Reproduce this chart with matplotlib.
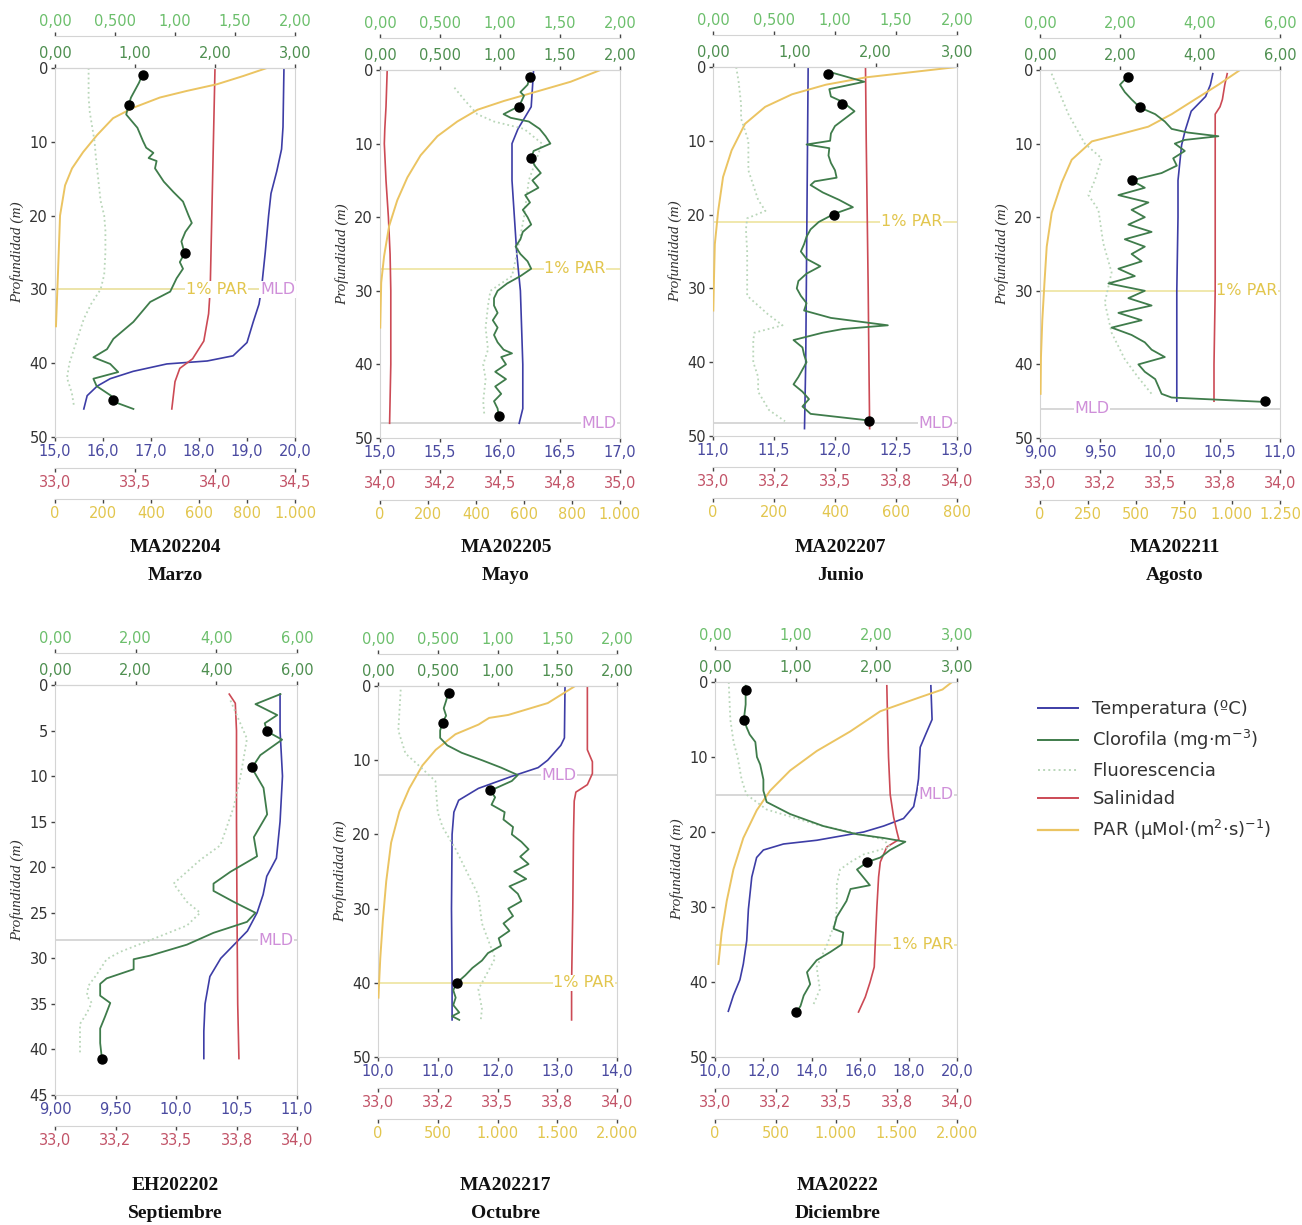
import matplotlib
matplotlib.use("Agg")
import matplotlib.pyplot as plt
from matplotlib.lines import Line2D
from matplotlib import transforms

# ---------------------------------------------------------------- data
codes = ["MA202204", "MA202205", "MA202207", "MA202211", "EH202202", "MA202217", "MA20222"]
months = ["Marzo", "Mayo", "Junio", "Agosto", "Septiembre", "Octubre", "Diciembre"]
legend_labels = ["Temperatura (ºC)", "Clorofila (mg·m$^{-3}$)", "Fluorescencia",
                 "Salinidad", "PAR (μMol·(m$^{2}$·s)$^{-1}$)"]

# ---- MA202204 (Marzo)
p1_chl_z = [0.7, 2, 3, 4, 5, 6.3, 8.1, 9.9, 10.8, 11.5, 12.2, 12.6, 13.6, 15.4, 16.8, 18.1, 20, 21, 22.2,
            23.5, 25.1, 26.3, 27.2, 28.5, 30.3, 31.7, 34.4, 36.7, 38.1, 39.2, 40.1, 41.2, 42.1, 43.1, 44.4, 45.2, 46.2]
p1_chl = [1.10, 1.05, 1.00, 0.95, 0.92, 0.89, 1.03, 1.10, 1.14, 1.23, 1.17, 1.27, 1.25, 1.36, 1.48, 1.60, 1.67, 1.71, 1.63,
          1.58, 1.62, 1.56, 1.60, 1.52, 1.44, 1.19, 0.98, 0.73, 0.65, 0.48, 0.69, 0.79, 0.48, 0.52, 0.70, 0.73, 0.98]
p1_flu_z = [0, 2, 4, 6, 8, 10, 12, 15, 18, 20, 22, 25, 28, 30, 32, 34, 36, 38, 40, 42, 44, 46]
p1_flu = [0.28, 0.28, 0.28, 0.29, 0.31, 0.33, 0.34, 0.36, 0.38, 0.41, 0.42, 0.42, 0.41, 0.38, 0.30, 0.24, 0.20, 0.16, 0.12, 0.10, 0.14, 0.16]
p1_tem_z = [0, 4, 8, 11, 14, 17, 20, 25, 30, 32, 34.4, 37.2, 39.0, 39.7, 40.1, 41.1, 42.1, 43.1, 44.4, 46.2]
p1_tem = [19.77, 19.76, 19.75, 19.72, 19.62, 19.50, 19.45, 19.38, 19.30, 19.25, 19.13, 19.00, 18.71, 18.17, 17.33, 16.63, 16.15, 15.88, 15.67, 15.60]
p1_sal_z = [0, 10, 20, 30, 33.3, 37, 39.4, 40.7, 42.5, 46.2]
p1_sal = [34.00, 33.99, 33.98, 33.97, 33.96, 33.93, 33.86, 33.78, 33.75, 33.73]
p1_par_z = [0, 1.1, 2.2, 3.1, 4.0, 5.4, 6.8, 9.1, 11.4, 13.6, 15.9, 20, 27.3, 35]
p1_par = [883, 783, 675, 550, 437, 325, 242, 175, 117, 71, 42, 21, 13, 4]
p1_bot_z = [1, 5, 25, 45]
p1_bot = [1.10, 0.92, 1.62, 0.73]
p1_mld, p1_par1 = 30, 30

# ---- MA202205 (Mayo)
p2_chl_z = [0.7, 2, 3, 3.5, 4.9, 6, 6.5, 7, 8, 9, 10, 11, 12, 13, 14, 15, 16, 17, 18, 19, 20, 21, 22, 23, 24, 25, 26, 27,
            28, 29, 30, 31, 32, 33, 34, 35, 36, 37, 38, 38.5, 39, 40, 41, 42, 43, 44, 45, 46, 47]
p2_chl = [1.25, 1.23, 1.17, 1.20, 1.16, 1.03, 1.09, 1.24, 1.33, 1.38, 1.42, 1.28, 1.26, 1.29, 1.34, 1.27, 1.32, 1.21, 1.25,
          1.19, 1.23, 1.26, 1.19, 1.17, 1.13, 1.17, 1.23, 1.26, 1.17, 1.06, 0.98, 0.95, 0.95, 0.98, 0.94, 0.98, 0.95, 0.98,
          1.03, 1.10, 1.01, 1.05, 0.96, 1.05, 0.96, 1.01, 0.95, 0.98, 0.99]
p2_flu_z = [2.4, 4, 6, 7, 8, 10, 15, 20, 25, 28, 30, 32, 35, 38, 40, 42, 45, 47]
p2_flu = [0.62, 0.70, 0.81, 0.95, 1.20, 1.35, 1.24, 1.20, 1.14, 1.10, 0.92, 0.90, 0.88, 0.90, 0.86, 0.88, 0.86, 0.87]
p2_tem_z = [0, 5, 8, 10, 15, 20, 25, 30, 40, 46, 48]
p2_tem = [16.28, 16.26, 16.15, 16.10, 16.10, 16.12, 16.14, 16.17, 16.19, 16.19, 16.16]
p2_sal_z = [0, 5, 8, 10, 15, 20, 25, 30, 40, 48]
p2_sal = [34.03, 34.025, 34.02, 34.018, 34.025, 34.035, 34.042, 34.045, 34.045, 34.04]
p2_par_z = [0, 1.6, 2.9, 4.2, 5.4, 7, 9, 11.6, 14.6, 17.7, 21.2, 25.3, 28.9, 35]
p2_par = [919, 794, 656, 517, 406, 322, 239, 169, 114, 72, 38, 17, 5, 1]
p2_bot_z = [1, 5, 12, 47]
p2_bot = [1.25, 1.16, 1.26, 0.99]
p2_mld, p2_par1 = 48, 27

# ---- MA202207 (Junio)
p3_chl_z = [0.6, 2, 3, 4, 4.7, 6, 7, 8, 9, 10, 10.5, 11, 12, 13, 14, 15, 15.5, 16, 17, 18, 19, 19.9, 21, 22, 23, 24, 25,
            26, 27, 28, 29, 30, 31, 32, 33, 34, 35, 35.5, 36, 37, 38, 39, 40, 41, 42, 43, 44, 45, 46, 47, 47.9]
p3_chl = [1.41, 1.86, 1.43, 1.45, 1.59, 1.74, 1.62, 1.50, 1.45, 1.44, 1.15, 1.43, 1.42, 1.45, 1.50, 1.52, 1.25, 1.20, 1.35,
          1.55, 1.72, 1.49, 1.30, 1.20, 1.15, 1.12, 1.08, 1.15, 1.32, 1.15, 1.05, 1.03, 1.08, 1.15, 1.12, 1.45, 2.15, 1.60,
          1.35, 0.99, 1.10, 1.12, 1.15, 1.10, 1.05, 0.99, 1.10, 1.18, 1.10, 1.20, 1.92]
p3_flu_z = [0, 2, 5, 7, 10, 14, 18, 19.5, 20.5, 22, 25, 28, 31, 33.5, 35, 36, 37, 40, 42, 44, 46.5, 48]
p3_flu = [0.19, 0.21, 0.23, 0.23, 0.29, 0.29, 0.37, 0.43, 0.28, 0.27, 0.28, 0.28, 0.28, 0.45, 0.57, 0.34, 0.33, 0.33, 0.37, 0.37, 0.46, 0.59]
p3_tem_z = [0, 10, 20, 30, 40, 49]
p3_tem = [11.78, 11.775, 11.77, 11.765, 11.76, 11.75]
p3_sal_z = [0, 10, 20, 30, 40, 49]
p3_sal = [33.625, 33.628, 33.632, 33.636, 33.639, 33.642]
p3_par_z = [0, 1.4, 2.4, 3.7, 5.4, 7.7, 11.3, 14.9, 19.5, 24, 29, 33]
p3_par = [800, 502, 370, 259, 171, 105, 61, 33, 17, 6, 3, 1]
p3_bot_z = [1, 5, 20, 48]
p3_bot = [1.41, 1.59, 1.49, 1.92]
p3_mld, p3_par1 = 48.3, 21

# ---- MA202211 (Agosto)
p4_chl_z = [0.8, 2, 3, 4, 5.1, 6, 7, 8, 8.5, 9, 9.5, 10, 11, 12, 13, 14, 15, 16, 17, 18, 19, 20, 21, 22, 23, 24, 25, 26,
            27, 28, 29, 30, 31, 32, 33, 34, 35, 36, 37, 38, 39, 40, 41, 42, 43, 44, 44.5, 45.1]
p4_chl = [2.21, 2.00, 2.12, 2.29, 2.50, 2.88, 3.12, 3.29, 3.70, 4.46, 3.62, 3.37, 3.62, 3.33, 3.42, 3.04, 2.29, 2.62, 1.96,
          2.71, 2.29, 2.62, 2.21, 2.79, 2.12, 2.62, 2.29, 2.54, 1.96, 2.37, 1.71, 2.62, 2.21, 2.79, 1.96, 2.54, 1.79, 2.29,
          2.62, 2.79, 3.12, 2.46, 2.62, 2.88, 2.96, 3.04, 3.29, 5.62]
p4_flu_z = [0.5, 6, 10, 12, 15, 17, 19, 23.5, 27.5, 31.6, 35.7, 39.3, 41.8, 44]
p4_flu = [0.29, 0.71, 1.12, 1.54, 1.37, 1.21, 1.46, 1.58, 1.79, 1.62, 1.79, 2.12, 2.46, 2.79]
p4_tem_z = [0.5, 2, 3.6, 5.6, 8.2, 10.2, 15, 20, 30, 40, 45]
p4_tem = [10.44, 10.42, 10.38, 10.26, 10.21, 10.18, 10.15, 10.15, 10.14, 10.14, 10.14]
p4_sal_z = [0.5, 2, 4, 5, 6, 10, 20, 30, 40, 45]
p4_sal = [33.78, 33.77, 33.76, 33.75, 33.73, 33.73, 33.73, 33.73, 33.725, 33.725]
p4_par_z = [0, 2, 4, 6, 7.7, 8.7, 9.7, 12.2, 15.3, 19.4, 24, 29, 34, 39, 44]
p4_par = [1042, 929, 807, 686, 564, 420, 270, 165, 113, 61, 35, 23, 12, 5, 3]
p4_bot_z = [1, 5, 15, 45]
p4_bot = [2.21, 2.50, 2.29, 5.62]
p4_mld, p4_par1 = 46, 30

# ---- EH202202 (Septiembre)
p5_chl_z = [1, 2.1, 3.3, 4.2, 5.1, 6, 7.7, 9.1, 11.3, 14.2, 16.7, 18.8, 20.5, 21.8, 22.6, 23.8, 25, 26, 27.2, 28.5,
            29.7, 30.1, 31.2, 32.2, 32.8, 34.1, 34.9, 36.4, 37.7, 39.3, 40.9]
p5_chl = [5.59, 4.97, 5.51, 5.20, 5.26, 5.63, 5.09, 4.88, 5.17, 5.26, 4.93, 5.01, 4.35, 3.93, 3.93, 4.43, 4.97, 4.76, 3.93,
          3.27, 2.36, 1.95, 1.95, 1.28, 1.12, 1.12, 1.37, 1.24, 1.12, 1.12, 1.16]
p5_flu_z = [1.7, 5.9, 10, 13.4, 17.6, 19.2, 21.8, 23.8, 25, 26.4, 28, 29.3, 30.1, 31.8, 33, 34.1, 34.9, 36, 37.2, 40.6]
p5_flu = [4.35, 4.76, 4.60, 4.43, 4.10, 3.60, 2.94, 3.27, 3.60, 3.27, 2.36, 1.61, 1.28, 1.03, 0.83, 0.79, 0.91, 0.79, 0.62, 0.62]
p5_tem_z = [1, 5, 10, 15, 19, 21, 23, 25, 27, 28.5, 30, 32, 33.5, 35, 38, 41]
p5_tem = [10.86, 10.86, 10.88, 10.86, 10.83, 10.75, 10.72, 10.67, 10.59, 10.48, 10.37, 10.28, 10.26, 10.24, 10.23, 10.23]
p5_sal_z = [1, 2, 5, 15, 25, 35, 41]
p5_sal = [33.72, 33.745, 33.75, 33.75, 33.752, 33.755, 33.76]
p5_bot_z = [5, 9, 41]
p5_bot = [5.26, 4.88, 1.16]
p5_mld = 28

# ---- MA202217 (Octubre)
p6_chl_z = [0.8, 2, 3, 4, 4.9, 6, 7, 8, 9, 10, 11, 12, 12.8, 14.1, 15, 16, 17, 18, 19, 20, 21, 22, 23, 24, 25, 26, 27, 28,
            29, 30, 31, 32, 33, 34, 35, 36, 37, 38, 39, 40, 41, 42, 43, 44, 44.5, 45]
p6_chl = [0.59, 0.57, 0.55, 0.57, 0.54, 0.52, 0.52, 0.58, 0.70, 0.87, 1.03, 1.17, 1.12, 0.94, 0.98, 0.95, 1.06, 1.05, 1.13,
          1.12, 1.20, 1.26, 1.19, 1.26, 1.14, 1.24, 1.10, 1.17, 1.20, 1.09, 1.13, 1.05, 1.10, 1.01, 1.03, 0.92, 0.87, 0.79,
          0.73, 0.66, 0.63, 0.65, 0.63, 0.68, 0.62, 0.68]
p6_flu_z = [0.5, 6, 9.1, 10.7, 12.8, 17, 19, 22, 24.6, 28.2, 32, 36.7, 40.9, 43.5, 45]
p6_flu = [0.19, 0.17, 0.23, 0.34, 0.48, 0.50, 0.54, 0.65, 0.73, 0.84, 0.87, 0.98, 0.84, 0.87, 0.86]
p6_tem_z = [0, 7, 8, 10, 11, 12.2, 13.8, 15.4, 17, 20, 30, 40, 45]
p6_tem = [13.13, 13.12, 13.06, 12.84, 12.68, 12.23, 11.68, 11.35, 11.27, 11.24, 11.23, 11.24, 11.24]
p6_sal_z = [0, 8.6, 10.2, 11.8, 13.3, 14.3, 15.5, 20, 30, 40, 45]
p6_sal = [33.876, 33.876, 33.897, 33.897, 33.876, 33.828, 33.821, 33.818, 33.815, 33.81, 33.81]
p6_par_z = [0, 2.3, 3.9, 4.3, 4.6, 5.2, 6.5, 8.6, 10.7, 13.8, 16.9, 21.1, 26.3, 31.5, 36.7, 40.4, 42]
p6_par = [1650, 1421, 1090, 930, 900, 841, 648, 483, 372, 262, 179, 110, 69, 41, 19, 8, 4]
p6_bot_z = [1, 5, 14, 40]
p6_bot = [0.59, 0.54, 0.94, 0.66]
p6_mld, p6_par1 = 12, 40

# ---- MA20222 (Diciembre)
p7_chl_z = [0.5, 3, 4.8, 6, 7, 8, 10, 11, 12, 13, 14.5, 16, 17.6, 19.2, 20.3, 20.8, 21.3, 22.4, 23.4, 24, 25, 27.1, 27.6,
            29.2, 31.3, 32.9, 33.4, 35, 36, 37.1, 38.7, 40.3, 41.8, 43.2, 44.2]
p7_chl = [0.38, 0.38, 0.36, 0.39, 0.43, 0.50, 0.52, 0.56, 0.58, 0.60, 0.60, 0.64, 0.93, 1.34, 1.76, 2.09, 2.36, 2.17, 2.05,
          1.89, 1.76, 1.92, 1.68, 1.63, 1.51, 1.47, 1.59, 1.57, 1.43, 1.26, 1.14, 1.18, 1.10, 1.06, 1.00]
p7_flu_z = [0, 5, 8, 10, 13, 15, 17, 19, 20, 21, 22, 23, 24, 25, 27, 30, 32, 35, 38, 41, 43]
p7_flu = [0.17, 0.19, 0.23, 0.28, 0.33, 0.39, 0.64, 1.26, 1.68, 2.09, 2.17, 1.84, 1.68, 1.55, 1.51, 1.51, 1.49, 1.39, 1.26, 1.30, 1.22]
p7_tem_z = [0.5, 5, 7.1, 8.7, 12.9, 14.5, 16.6, 18.2, 19.2, 20, 21.1, 21.6, 22.4, 23.4, 26, 30.3, 34.5, 37.6, 39.7, 41.8, 43.9]
p7_tem = [18.92, 18.97, 18.69, 18.48, 18.41, 18.34, 18.21, 17.79, 16.97, 16.14, 14.21, 12.83, 12.00, 11.72, 11.52, 11.38,
          11.31, 11.17, 11.03, 10.76, 10.55]
p7_sal_z = [0.5, 5, 10, 15, 18, 20, 21, 22, 24, 26, 30, 35, 38, 40, 42, 44]
p7_sal = [33.71, 33.713, 33.717, 33.724, 33.738, 33.752, 33.76, 33.71, 33.683, 33.676, 33.669, 33.662, 33.658, 33.641, 33.621, 33.593]
p7_par_z = [0, 1, 2, 3.9, 6.6, 9.2, 11.8, 14.5, 17.1, 20.8, 25, 29.2, 33.4, 37.6]
p7_par = [1959, 1880, 1700, 1366, 1117, 841, 621, 455, 345, 234, 152, 97, 55, 28]
p7_bot_z = [1, 5, 24, 44]
p7_bot = [0.38, 0.36, 1.89, 1.00]
p7_mld, p7_par1 = 15, 35

# ---- axis scales (limits and ticks)
depth_ticks_50 = [0, 10, 20, 30, 40, 50]
depth_ticks_45 = [0, 5, 10, 15, 20, 25, 30, 35, 40, 45]
tem_ticks = [[15, 16, 17, 18, 19, 20], [15, 15.5, 16, 16.5, 17], [11, 11.5, 12, 12.5, 13], [9, 9.5, 10, 10.5, 11],
             [9, 9.5, 10, 10.5, 11], [10, 11, 12, 13, 14], [10, 12, 14, 16, 18, 20]]
sal_ticks = [[33.0, 33.5, 34.0, 34.5], [34.0, 34.25, 34.5, 34.75, 35.0], [33.0, 33.25, 33.5, 33.75, 34.0],
             [33.0, 33.25, 33.5, 33.75, 34.0], [33.0, 33.25, 33.5, 33.75, 34.0], [33.0, 33.25, 33.5, 33.75, 34.0],
             [33.0, 33.25, 33.5, 33.75, 34.0]]
par_ticks = [[0, 200, 400, 600, 800, 1000], [0, 200, 400, 600, 800, 1000], [0, 200, 400, 600, 800],
             [0, 250, 500, 750, 1000, 1250], None, [0, 500, 1000, 1500, 2000], [0, 500, 1000, 1500, 2000]]
chl_ticks = [[0, 1, 2, 3], [0, 0.5, 1, 1.5, 2], [0, 1, 2, 3], [0, 2, 4, 6], [0, 2, 4, 6], [0, 0.5, 1, 1.5, 2], [0, 1, 2, 3]]
flu_ticks = [[0, 0.5, 1, 1.5, 2], [0, 0.5, 1, 1.5, 2], [0, 0.5, 1, 1.5, 2], [0, 2, 4, 6], [0, 2, 4, 6],
             [0, 0.5, 1, 1.5, 2], [0, 1, 2, 3]]

# ---------------------------------------------------------------- style
C_TEM, C_TEM_T = "#3d3da6", "#4a4aa0"
C_CHL, C_CHL_T = "#3f7c4b", "#4e8f50"
C_FLU, C_FLU_T = "#b9d6b9", "#6cbf6c"
C_SAL, C_SAL_T = "#cc4a55", "#c25468"
C_PAR, C_PAR_T = "#ebc462", "#e2c64e"
C_MLD_T = "#cf8fd9"
C_GRID = "#d4d4d4"
C_TICK = "#444444"
TXT = "#333333"

# axes boxes in pixels: left, top, right, bottom
boxes = [(55, 68, 295, 437), (380, 70, 620, 438), (713, 67, 957, 436), (1040, 70, 1280, 438),
         (55, 685, 297, 1095), (378, 686, 617, 1057), (715, 682, 957, 1057)]
title_pos = [(175, 548), (506, 548), (840, 548), (1175, 548), (175, 1186), (505, 1186), (838, 1186)]
mld_label_x = [1.0, 0.985, 0.985, 0.29, 0.985, 0.83, 0.985]
par_label_x = [0.80, 0.94, 0.94, 0.99, None, 0.99, 0.985]

W, H = 1302, 1225
fig = plt.figure(figsize=(W / 100, H / 100), dpi=100)
PT = 0.72  # points per pixel


def fmt3(v):
    return format(v, "#.3g").replace(".", ",")


def fmtpar(v):
    return f"{int(v):,}".replace(",", ".")


def twin(ax, where, off_px, ticks, labels, color):
    t = ax.twiny()
    t.set_xlim(ticks[0], ticks[-1])
    t.xaxis.set_ticks_position(where)
    t.xaxis.set_label_position(where)
    for s in t.spines.values():
        s.set_visible(False)
    t.spines[where].set_visible(True)
    t.spines[where].set_position(("outward", off_px * PT))
    t.spines[where].set_color(C_GRID)
    t.set_xticks(ticks)
    t.set_xticklabels(labels)
    t.tick_params(axis="x", color=C_TICK, labelcolor=color, labelsize=10.5, length=3, width=1, pad=2)
    return t


panels = [
    dict(cz=p1_chl_z, c=p1_chl, fz=p1_flu_z, f=p1_flu, tz=p1_tem_z, t=p1_tem, sz=p1_sal_z, s=p1_sal,
         pz=p1_par_z, p=p1_par, bz=p1_bot_z, b=p1_bot, mld=p1_mld, par1=p1_par1, zt=depth_ticks_50),
    dict(cz=p2_chl_z, c=p2_chl, fz=p2_flu_z, f=p2_flu, tz=p2_tem_z, t=p2_tem, sz=p2_sal_z, s=p2_sal,
         pz=p2_par_z, p=p2_par, bz=p2_bot_z, b=p2_bot, mld=p2_mld, par1=p2_par1, zt=depth_ticks_50),
    dict(cz=p3_chl_z, c=p3_chl, fz=p3_flu_z, f=p3_flu, tz=p3_tem_z, t=p3_tem, sz=p3_sal_z, s=p3_sal,
         pz=p3_par_z, p=p3_par, bz=p3_bot_z, b=p3_bot, mld=p3_mld, par1=p3_par1, zt=depth_ticks_50),
    dict(cz=p4_chl_z, c=p4_chl, fz=p4_flu_z, f=p4_flu, tz=p4_tem_z, t=p4_tem, sz=p4_sal_z, s=p4_sal,
         pz=p4_par_z, p=p4_par, bz=p4_bot_z, b=p4_bot, mld=p4_mld, par1=p4_par1, zt=depth_ticks_50),
    dict(cz=p5_chl_z, c=p5_chl, fz=p5_flu_z, f=p5_flu, tz=p5_tem_z, t=p5_tem, sz=p5_sal_z, s=p5_sal,
         pz=None, p=None, bz=p5_bot_z, b=p5_bot, mld=p5_mld, par1=None, zt=depth_ticks_45),
    dict(cz=p6_chl_z, c=p6_chl, fz=p6_flu_z, f=p6_flu, tz=p6_tem_z, t=p6_tem, sz=p6_sal_z, s=p6_sal,
         pz=p6_par_z, p=p6_par, bz=p6_bot_z, b=p6_bot, mld=p6_mld, par1=p6_par1, zt=depth_ticks_50),
    dict(cz=p7_chl_z, c=p7_chl, fz=p7_flu_z, f=p7_flu, tz=p7_tem_z, t=p7_tem, sz=p7_sal_z, s=p7_sal,
         pz=p7_par_z, p=p7_par, bz=p7_bot_z, b=p7_bot, mld=p7_mld, par1=p7_par1, zt=depth_ticks_50),
]

for i, P in enumerate(panels):
    l, t_, r, b_ = boxes[i]
    ax = fig.add_axes([l / W, 1 - b_ / H, (r - l) / W, (b_ - t_) / H])
    zt = P["zt"]
    ax.set_ylim(zt[-1], zt[0])
    ax.set_yticks(zt)
    ax.set_yticklabels([str(v) for v in zt])
    ax.set_xlim(tem_ticks[i][0], tem_ticks[i][-1])
    ax.set_xticks(tem_ticks[i])
    ax.set_xticklabels([fmt3(v) for v in tem_ticks[i]])
    for s in ax.spines.values():
        s.set_color(C_GRID)
    ax.tick_params(axis="x", color=C_TICK, labelcolor=C_TEM_T, labelsize=10.5, length=3, width=1, pad=2)
    ax.tick_params(axis="y", color=C_TICK, labelcolor=TXT, labelsize=10.5, length=3, width=1, pad=2)
    ax.set_ylabel("Profundidad (m)", family="Liberation Serif", style="italic", fontsize=11, color=TXT, labelpad=4)

    # reference lines
    ax.axhline(P["mld"], color="#cdcdcd", lw=1.1, zorder=0)
    if P["par1"] is not None:
        ax.axhline(P["par1"], color="#efe6a6", lw=1.3, zorder=0)

    ax.plot(P["t"], P["tz"], color=C_TEM, lw=1.2)

    axS = twin(ax, "bottom", 31, sal_ticks[i], [fmt3(v) for v in sal_ticks[i]], C_SAL_T)
    axS.plot(P["s"], P["sz"], color=C_SAL, lw=1.2)

    if par_ticks[i] is not None:
        axP = twin(ax, "bottom", 62, par_ticks[i], [fmtpar(v) for v in par_ticks[i]], C_PAR_T)
        axP.plot(P["p"], P["pz"], color=C_PAR, lw=1.4)

    axF = twin(ax, "top", 32, flu_ticks[i], [fmt3(v) for v in flu_ticks[i]], C_FLU_T)
    axF.plot(P["f"], P["fz"], color=C_FLU, lw=1.3, ls=":")

    axC = twin(ax, "top", 0, chl_ticks[i], [fmt3(v) for v in chl_ticks[i]], C_CHL_T)
    axC.plot(P["c"], P["cz"], color=C_CHL, lw=1.3)
    axC.plot(P["b"], P["bz"], "o", color="black", ms=6.5, zorder=5)

    tr = transforms.blended_transform_factory(axC.transAxes, axC.transData)
    bb = dict(facecolor="white", edgecolor="none", pad=0.5)
    axC.text(mld_label_x[i], P["mld"], "MLD", transform=tr, ha="right", va="center", fontsize=11.5,
             color=C_MLD_T, bbox=bb, zorder=6)
    if P["par1"] is not None:
        axC.text(par_label_x[i], P["par1"], "1% PAR", transform=tr, ha="right", va="center", fontsize=11.5,
                 color=C_PAR_T, bbox=bb, zorder=6)

    tx, ty = title_pos[i]
    fig.text(tx / W, 1 - ty / H, codes[i], ha="center", va="center", family="Liberation Serif",
             weight="bold", fontsize=14, color="#111111")
    fig.text(tx / W, 1 - (ty + 27) / H, months[i], ha="center", va="center", family="Liberation Serif",
             weight="bold", fontsize=14, color="#111111")

handles = [Line2D([], [], color=C_TEM, lw=1.4), Line2D([], [], color=C_CHL, lw=1.4),
           Line2D([], [], color=C_FLU, lw=1.4, ls=":"), Line2D([], [], color=C_SAL, lw=1.4),
           Line2D([], [], color=C_PAR, lw=1.6)]
fig.legend(handles, legend_labels, loc="upper left", bbox_to_anchor=(1022 / W, 1 - 684 / H), frameon=False,
           fontsize=13, handlelength=2.2, labelspacing=0.55, labelcolor=TXT)

fig.savefig("out.png", dpi=100)
